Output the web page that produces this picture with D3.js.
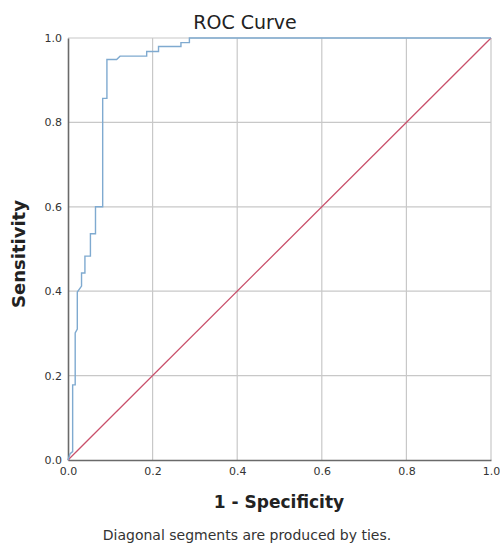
<!DOCTYPE html>
<html>
<head>
<meta charset="utf-8">
<script src="https://cdn.jsdelivr.net/npm/d3@7"></script>
<style>
  html, body { margin: 0; padding: 0; background: #fff; }
  svg { display: block; font-family: "DejaVu Sans", sans-serif; }
</style>
</head>
<body>
<svg id="chart" width="500" height="546"></svg>
<script>
// ROC curve points: 1 - specificity (fpr) and sensitivity (tpr)
const fpr = [0, 0.005, 0.011, 0.011, 0.017, 0.017, 0.022, 0.022, 0.032, 0.032, 0.040, 0.040, 0.053, 0.053, 0.065, 0.065, 0.082, 0.082, 0.092, 0.092, 0.115, 0.123, 0.186, 0.186, 0.214, 0.214, 0.267, 0.267, 0.287, 0.287, 1.0];
const tpr = [0, 0.015, 0.02, 0.178, 0.178, 0.301, 0.31, 0.398, 0.412, 0.443, 0.443, 0.483, 0.483, 0.536, 0.536, 0.600, 0.600, 0.857, 0.857, 0.949, 0.949, 0.957, 0.957, 0.968, 0.968, 0.980, 0.980, 0.989, 0.989, 1.0, 1.0];
const refX = [0, 1];
const refY = [0, 1];
const ticks = [0, 0.2, 0.4, 0.6, 0.8, 1.0];
const tickLabels = ["0.0", "0.2", "0.4", "0.6", "0.8", "1.0"];
const titleText = "ROC Curve";
const xTitle = "1 - Specificity";
const yTitle = "Sensitivity";
const footnote = "Diagonal segments are produced by ties.";

const svg = d3.select("#chart");
const m = { left: 68, right: 9, top: 38, bottom: 86 };
const W = 500, H = 546;
const x = d3.scaleLinear().domain([0, 1]).range([m.left, W - m.right]);
const y = d3.scaleLinear().domain([0, 1]).range([H - m.bottom, m.top]);

// grid
const grid = svg.append("g");
grid.selectAll("line.gx").data(ticks.slice(1)).enter().append("line")
  .attr("x1", d => x(d)).attr("x2", d => x(d))
  .attr("y1", y(0)).attr("y2", y(1))
  .attr("stroke", "#c8c8c8").attr("stroke-width", 1.2);
grid.selectAll("line.gy").data(ticks.slice(1)).enter().append("line")
  .attr("x1", x(0)).attr("x2", x(1))
  .attr("y1", d => y(d)).attr("y2", d => y(d))
  .attr("stroke", "#c8c8c8").attr("stroke-width", 1.2);

// axes
const xAxis = d3.axisBottom(x).tickValues(ticks).tickFormat((d, i) => tickLabels[i]).tickSize(0).tickPadding(7);
const yAxis = d3.axisLeft(y).tickValues(ticks).tickFormat((d, i) => tickLabels[i]).tickSize(0).tickPadding(6);
const gx = svg.append("g").attr("transform", `translate(0,${y(0)})`).call(xAxis);
const gy = svg.append("g").attr("transform", `translate(${x(0)},0)`).call(yAxis);
[gx, gy].forEach(g => {
  g.select(".domain").attr("stroke", "#6a6a6a").attr("stroke-width", 1.6);
  g.selectAll("text").attr("font-family", "DejaVu Sans").attr("font-size", 11).attr("fill", "#333");
});

// reference line
const line = d3.line().x(d => x(d[0])).y(d => y(d[1]));
svg.append("path")
  .datum(refX.map((v, i) => [v, refY[i]]))
  .attr("d", line).attr("fill", "none")
  .attr("stroke", "#c9506b").attr("stroke-width", 1.3);

// ROC curve
svg.append("path")
  .datum(fpr.map((v, i) => [v, tpr[i]]))
  .attr("d", line).attr("fill", "none")
  .attr("stroke", "#7faad0").attr("stroke-width", 1.4);

// titles
svg.append("text").attr("x", 245).attr("y", 29).attr("text-anchor", "middle")
  .attr("font-size", 19).attr("fill", "#222").text(titleText);
svg.append("text").attr("x", 279).attr("y", 508).attr("text-anchor", "middle")
  .attr("font-size", 17).attr("font-weight", "bold").attr("fill", "#222").text(xTitle);
svg.append("text").attr("transform", "translate(25,254) rotate(-90)").attr("text-anchor", "middle")
  .attr("font-size", 18).attr("font-weight", "bold").attr("fill", "#222").text(yTitle);
svg.append("text").attr("x", 247).attr("y", 540).attr("text-anchor", "middle")
  .attr("font-size", 14).attr("fill", "#333").text(footnote);
</script>
</body>
</html>
